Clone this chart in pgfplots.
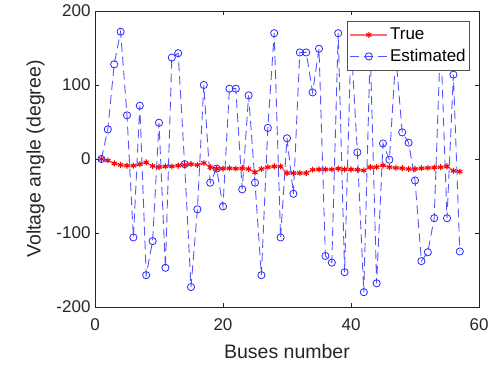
\documentclass[border=0pt]{standalone}
\usepackage{pgfplots}
\pgfplotsset{compat=1.18}
\usepackage{fontspec}
\setmainfont{Liberation Sans}

\definecolor{axgray}{RGB}{38,38,38}
\definecolor{trueline}{RGB}{255,110,110}
\definecolor{truemark}{RGB}{255,0,0}
\definecolor{estline}{RGB}{85,85,255}
\definecolor{estmark}{RGB}{40,40,255}

\begin{document}
\begin{tikzpicture}[x=1pt,y=1pt]
\path[use as bounding box] (0,0) rectangle (490,366);
\begin{axis}[
  at={(95pt,59pt)}, anchor=south west,
  scale only axis,
  width=384pt, height=296pt,
  xmin=0, xmax=60, ymin=-200, ymax=200,
  xtick={0,20,40,60}, ytick={-200,-100,0,100,200},
  tick align=inside,
  major tick length=4pt,
  axis line style={axgray, line width=0.6pt},
  tick style={axgray, line width=0.6pt},
  every tick label/.append style={text=axgray, font=\fontsize{17}{19}\selectfont},
  xticklabel style={yshift=-8pt},
  yticklabel style={xshift=-1pt},
  /pgf/number format/assume math mode=true,
  xlabel={Buses number},
  ylabel={Voltage angle (degree)},
  label style={text=axgray, font=\fontsize{19.5}{22}\selectfont},
  xlabel style={yshift=-7pt},
  ylabel style={yshift=5pt},
  legend style={
    at={(1,1)}, xshift=-9pt, yshift=-10pt, anchor=north east,
    draw=axgray!80, line width=0.6pt, fill=white,
    font=\fontsize{17}{19}\selectfont, text=black,
    row sep=4pt, inner xsep=2pt, inner ysep=5pt,
    cells={anchor=west},
  },
  legend image code/.code={
    \draw[#1] (0pt,0pt) -- (37pt,0pt);
    \draw[#1, solid] plot coordinates {(18.5pt,0pt)};
  },
]
% True voltage angles
\addplot[trueline, line width=1.6pt, mark=asterisk,
  mark options={truemark, solid, line width=1.1pt}, mark size=3pt]
coordinates {
(1,0) (2,-2) (3,-6) (4,-8) (5,-9) (6,-9) (7,-7) (8,-4.6) (9,-9.5) (10,-11)
(11,-10) (12,-10) (13,-9) (14,-8) (15,-7) (16,-8) (17,-5.4) (18,-11) (19,-13) (20,-13)
(21,-12.5) (22,-13) (23,-12.5) (24,-13.5) (25,-18) (26,-13.5) (27,-11) (28,-10) (29,-10) (30,-19)
(31,-19) (32,-19) (33,-19) (34,-14.5) (35,-14) (36,-14) (37,-14) (38,-13) (39,-14) (40,-14)
(41,-14.5) (42,-15.4) (43,-11) (44,-11) (45,-8.6) (46,-11) (47,-12) (48,-12.5) (49,-13.5) (50,-13.5)
(51,-12.5) (52,-12) (53,-11.5) (54,-11) (55,-10) (56,-16) (57,-17)
};
\addlegendentry{True}
% Estimated voltage angles
\addplot[estline, line width=0.9pt, dash pattern=on 9pt off 5pt, mark=o,
  mark options={estmark, solid, line width=0.8pt}, mark size=3.6pt]
coordinates {
(1,0) (2,40) (3,128) (4,172) (5,59) (6,-106) (7,72) (8,-157) (9,-111) (10,49)
(11,-147) (12,137) (13,143) (14,-7) (15,-173) (16,-68) (17,100) (18,-32) (19,-13) (20,-64)
(21,95) (22,95) (23,-41) (24,86) (25,-32) (26,-157) (27,42) (28,170) (29,-106) (30,28)
(31,-47) (32,144) (33,144) (34,90) (35,149) (36,-131) (37,-140) (38,170) (39,-153) (40,160)
(41,9) (42,-180) (43,150) (44,-168) (45,21) (46,-1) (47,140) (48,36) (49,22) (50,-29)
(51,-138) (52,-126) (53,-80) (54,165) (55,-80) (56,114) (57,-125)
};
\addlegendentry{Estimated}
\end{axis}
\end{tikzpicture}
\end{document}
